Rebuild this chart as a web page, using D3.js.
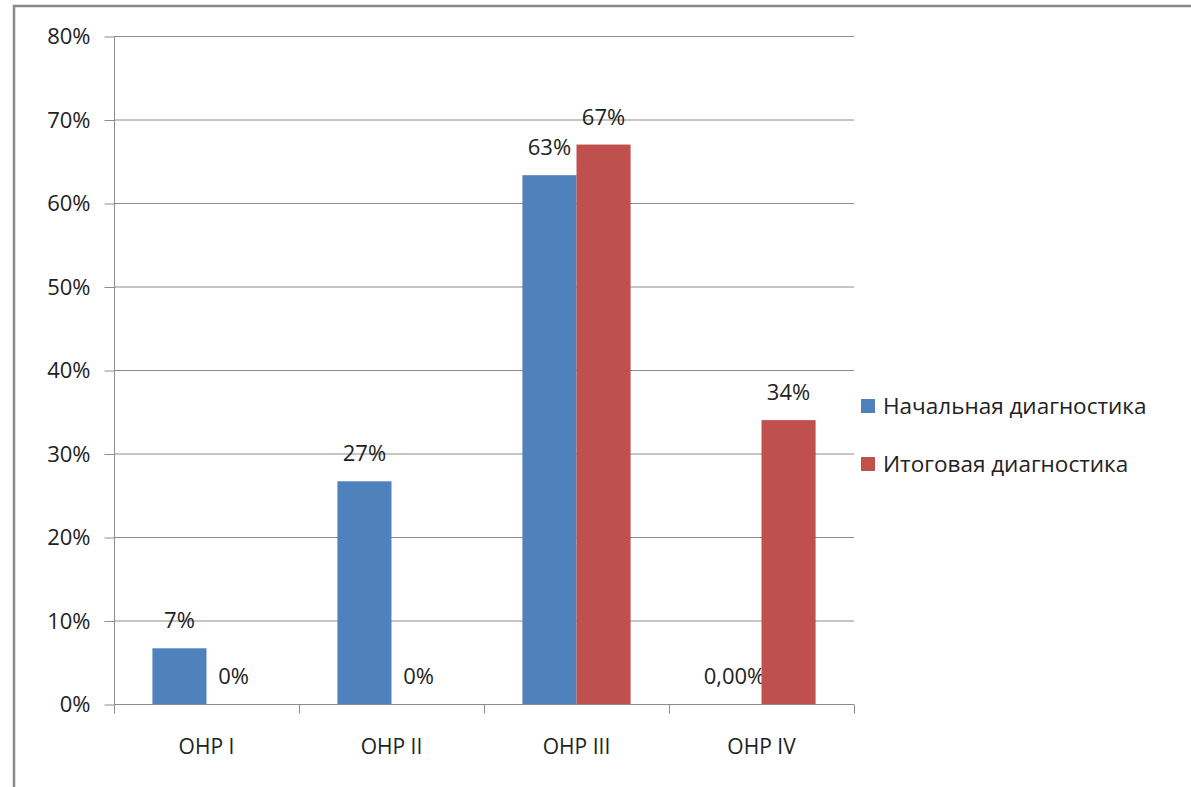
<!DOCTYPE html>
<html>
<head>
    <title></title>
    <meta charset="utf-8">
    <style>
        body { margin: 0; background: #fff; }
        text { font-family: 'Open Sans', sans-serif; fill: #222; }
    </style>
</head>
<body>
<script src="https://d3js.org/d3.v7.min.js"></script>
<script>
    var categories = ['OHP I', 'OHP II', 'OHP III', 'OHP IV'];
    var seriesNames = ['Начальная диагностика', 'Итоговая диагностика'];
    var initialValues = [6.67, 26.67, 63.33, 0];
    var finalValues = [0, 0, 67, 34];
    var initialLabels = ['7%', '27%', '63%', '0,00%'];
    var finalLabels = ['0%', '0%', '67%', '34%'];
    var yTicks = [0, 10, 20, 30, 40, 50, 60, 70, 80];
    var colors = ['#4f81bd', '#c0504d'];

    var svg = d3.select('body').append('svg')
        .attr('width', 1191)
        .attr('height', 787);

    // outer frame
    svg.append('rect')
        .attr('x', 14).attr('y', 6)
        .attr('width', 1190).attr('height', 800)
        .attr('fill', 'none')
        .attr('stroke', '#8a8a8a')
        .attr('stroke-width', 2.5);

    var plot = { left: 114, right: 854, top: 36, bottom: 704 };

    var x = d3.scaleBand()
        .domain(categories)
        .range([plot.left, plot.right]);

    var x1 = d3.scaleBand()
        .domain(seriesNames)
        .range([0, x.bandwidth()])
        .paddingOuter(0.71);

    var y = d3.scaleLinear()
        .domain([0, 80])
        .range([plot.bottom, plot.top]);

    // gridlines
    svg.append('g').selectAll('line')
        .data(yTicks.slice(1))
        .enter().append('line')
        .attr('x1', plot.left).attr('x2', plot.right)
        .attr('y1', function (d) { return y(d) + 0.5; })
        .attr('y2', function (d) { return y(d) + 0.5; })
        .attr('stroke', '#8c8c8c')
        .attr('stroke-width', 1);

    // y axis
    var yAxis = svg.append('g')
        .attr('transform', 'translate(' + (plot.left + 0.5) + ',0.5)')
        .call(d3.axisLeft(y).tickValues(yTicks).tickSize(10).tickPadding(14)
            .tickFormat(function (d) { return d + '%'; }));
    yAxis.selectAll('path, line').attr('stroke', '#8c8c8c');
    yAxis.select('.domain').attr('d', 'M0,' + plot.top + 'V' + plot.bottom);
    yAxis.selectAll('text')
        .style('font-family', "'Open Sans', sans-serif")
        .style('font-size', '22px')
        .attr('fill', '#222');

    // x axis
    var xAxis = svg.append('g')
        .attr('transform', 'translate(0,' + (plot.bottom + 0.5) + ')')
        .call(d3.axisBottom(x).tickSize(0).tickPadding(35));
    xAxis.selectAll('.domain').attr('stroke', '#8c8c8c').attr('d', 'M' + plot.left + ',0H' + plot.right);
    xAxis.selectAll('text')
        .style('font-family', "'Open Sans', sans-serif")
        .style('font-size', '21px')
        .attr('fill', '#222');
    var xt = d3.range(categories.length + 1).map(function (i) { return plot.left + i * x.step(); });
    xAxis.selectAll('.sep')
        .data(xt)
        .enter().append('line')
        .attr('class', 'sep')
        .attr('x1', function (d) { return d + 0.5; })
        .attr('x2', function (d) { return d + 0.5; })
        .attr('y1', 0).attr('y2', 9)
        .attr('stroke', '#8c8c8c');

    var series = [
        { name: seriesNames[0], values: initialValues, labels: initialLabels, color: colors[0] },
        { name: seriesNames[1], values: finalValues, labels: finalLabels, color: colors[1] }
    ];

    series.forEach(function (s) {
        var g = svg.append('g');
        g.selectAll('rect')
            .data(s.values)
            .enter().append('rect')
            .attr('x', function (d, i) { return x(categories[i]) + x1(s.name); })
            .attr('y', function (d) { return y(d); })
            .attr('width', x1.bandwidth())
            .attr('height', function (d) { return y(0) - y(d); })
            .attr('fill', s.color);
        g.selectAll('text')
            .data(s.values)
            .enter().append('text')
            .attr('x', function (d, i) { return x(categories[i]) + x1(s.name) + x1.bandwidth() / 2; })
            .attr('y', function (d) { return y(d) - 20; })
            .attr('text-anchor', 'middle')
            .style('font-size', '22px')
            .text(function (d, i) { return s.labels[i]; });
    });

    // legend
    var legend = svg.append('g')
        .attr('transform', 'translate(861,399)');
    var item = legend.selectAll('g')
        .data(series)
        .enter().append('g')
        .attr('transform', function (d, i) { return 'translate(0,' + i * 58 + ')'; });
    item.append('rect')
        .attr('width', 14).attr('height', 14)
        .attr('fill', function (d) { return d.color; });
    item.append('text')
        .attr('x', 22).attr('y', 15)
        .style('font-size', '22.5px')
        .text(function (d) { return d.name; });
</script>
</body>
</html>
